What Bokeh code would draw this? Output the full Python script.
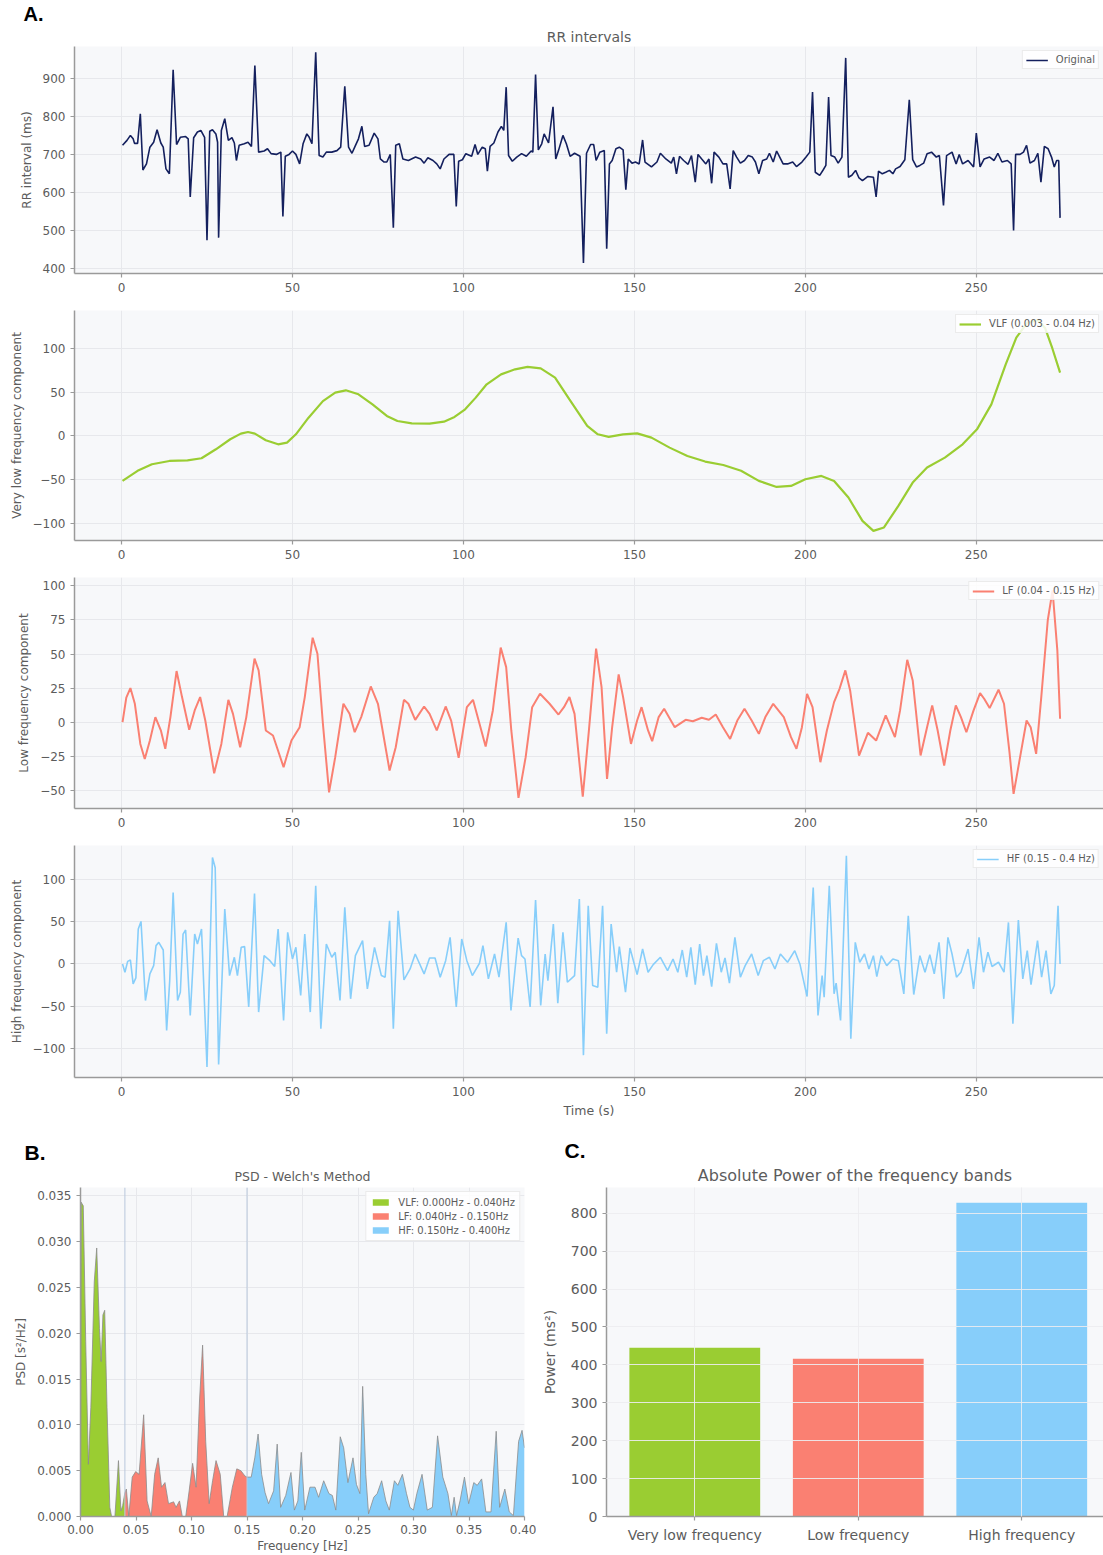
from bokeh.plotting import figure
from bokeh.layouts import column, row
from bokeh.models import Range1d, Span, NumeralTickFormatter, CustomJSTickFormatter, Title
from bokeh.embed import file_html
from bokeh.resources import INLINE

# ---------------- data ----------------
rr_points = [(0.3,725),(1.6,738),(2.6,751),(3.4,742),(3.8,730),(4.7,730),(5.5,808),(6.25,660),(7.3,676),(8.3,720),
 (9.4,733),(10.4,766),(11.5,731),(12.2,720),(13,663),(14,650),(15.1,924),(16.1,727),(17.2,746),(18.75,748),
 (19.5,742),(20.1,589),(21.1,745),(22.2,760),(23.2,764),(24.3,746),(25,475),(25.8,762),(26.6,766),(27.6,755),
 (28.1,733),(28.4,482),(29.2,764),(30.2,795),(31.25,738),(32.3,745),(33,731),(33.6,685),(34.4,725),(35.9,729),
 (37,733),(38,722),(39,935),(40.1,707),(41.7,710),(42.7,716),(43.75,703),(45.3,701),(46.6,707),(47.2,538),
 (47.9,696),(49,701),(50,710),(51,701),(52.1,676),(53.1,729),(54.2,755),(54.9,746),(55.7,729),(56.8,970),
 (57.8,698),(58.9,694),(59.9,707),(61.5,707),(63,711),(64.1,720),(65.3,880),(66.4,720),(67.4,704),(68.4,724),
 (69.3,742),(70.3,775),(71.1,722),(72.4,725),(73.9,757),(75,742),(75.7,689),(76.8,681),(77.6,681),(78.6,701),
 (79.5,508),(80.2,725),(81.25,729),(82.3,689),(83.9,685),(86,694),(87.5,689),(88.5,678),(89.6,692),(91.1,685),
 (92.2,676),(93.2,663),(94.3,689),(95.8,701),(97.2,701),(97.9,564),(98.6,683),(99.7,687),(100.7,703),(102.4,696),
 (103.4,727),(104.2,701),(105.5,720),(106.4,716),(107,657),(107.8,722),(108.9,731),(110.1,760),(111.1,775),(111.8,764),
 (112.5,878),(113.2,698),(114.3,683),(115.6,694),(117,703),(118.4,696),(119.8,710),(120.3,707),(121.1,911),(121.9,713),
 (122.9,729),(123.6,755),(124.9,731),(126.2,826),(127,689),(127.8,711),(129.1,751),(130.1,729),(131.2,696),(132.5,704),
 (134.1,696),(135.1,415),(136,704),(137.2,727),(138.1,727),(138.8,685),(139.9,707),(141.2,711),(141.9,453),(142.7,676),
 (143.5,685),(144.6,716),(145.6,720),(146.7,713),(147.5,608),(148.2,689),(149.3,678),(150.3,681),(151.4,676),(152.4,739),
 (153.1,681),(155,668),(156.6,681),(157.6,704),(159.2,689),(160.8,678),(161.5,694),(162.3,650),(163.2,696),(164.4,685),
 (165.7,675),(166.7,698),(167.8,628),(168.6,701),(169.7,689),(170.9,676),(171.8,689),(172.6,625),(173.3,707),(174.7,694),
 (175.9,676),(177,676),(178,610),(178.9,711),(179.9,694),(181,678),(182.2,685),(183.3,698),(184.5,694),(185.4,681),
 (186.4,650),(187.5,685),(188.7,689),(189.5,704),(190.6,681),(191.6,710),(192.5,694),(193.5,676),(194.8,676),(196.3,681),
 (197.4,669),(199,681),(200.2,694),(201.3,707),(202.1,865),(202.9,654),(204.2,646),(205.2,660),(206,672),(206.8,852),
 (207.5,698),(208.6,694),(209.6,678),(210.7,694),(211.8,955),(212.6,641),(213.6,646),(214.7,659),(215.7,639),(216.7,632),
 (218.3,643),(219.9,641),(220.7,589),(221.4,657),(222.5,650),(223.5,654),(224.6,659),(225.6,650),(226.4,663),(227.7,669),
 (229.1,687),(230.4,845),(231.4,687),(232.5,668),(233.5,672),(234.6,678),(235.6,703),(236.9,707),(238.3,694),(239.2,698),
 (240.4,567),(241.3,698),(242.9,707),(244.1,676),(245,701),(246,676),(247.6,685),(249.2,668),(250,757),(251.1,668),
 (252.3,689),(253.9,694),(255.2,685),(256.3,704),(257.5,681),(259.1,685),(260.2,676),(260.9,501),(261.5,701),(262.8,701),
 (263.8,707),(264.7,725),(265.7,678),(267,685),(268,704),(268.9,628),(269.9,722),(271,716),(272,694),(272.8,668),
 (273.5,685),(274.1,685),(274.5,534)]

vlf_points = [(0.3,-51.6),(4.7,-40),(8.9,-32.5),(14,-28.7),(19.3,-28),(23.4,-25.6),(27.6,-15.3),(31.8,-3.8),(34.9,2.7),
 (37,4.6),(39,2.7),(42.2,-5),(45.8,-9.6),(48.4,-7.6),(51,1.9),(54.7,21),(58.9,40),(62.5,49.7),(65.6,52.4),(69.3,47.8),
 (73.4,36.3),(77.6,23),(80.7,17.2),(84.9,14.5),(90.1,14.1),(94.3,16.4),(97.4,21.8),(100.5,30.6),(103.6,44),(106.8,59.3),
 (111,70.7),(115.1,76.5),(118.75,79.2),(122.6,77.5),(126.8,67),(131,42),(136.2,11.5),(139.3,1.9),(142.5,-1.1),(146.7,1.9),
 (150.8,3),(155,-1.9),(160.3,-13.4),(165.5,-23),(170.7,-29.4),(176,-33.3),(181.2,-40),(186.4,-51.6),(191.6,-58.5),
 (195.8,-57.4),(200,-49.7),(204.7,-45.9),(208.4,-51.6),(212.6,-70.7),(216.7,-97.5),(219.9,-109),(223,-105),(227.2,-80.3),
 (231.4,-53.5),(235.6,-36.3),(240.8,-24.9),(246,-9.6),(250.2,7.6),(254.4,36.3),(258.6,82.2),(261.7,112.8),(264.9,130),
 (268,133),(270.1,124),(272.2,101),(274.5,72.7)]

lf_points = [(0.3,0),(1.4,18),(2.6,25),(3.9,13.5),(5.5,-16),(6.8,-27),(8.3,-13.5),(9.9,3.7),(11.5,-6),(12.8,-19.6),
 (14.3,3.7),(16.1,37.5),(17.7,18.4),(19.8,-5.6),(21.4,8.6),(23,18.4),(24.5,1.2),(27.1,-37.5),(29.2,-16),(31.25,16.4),
 (32.6,6.1),(34.7,-18.4),(36.5,3.7),(38.9,46.6),(40.1,38),(42.2,-6.1),(44.3,-9.8),(47.4,-33),(49.7,-13.5),(52.1,-3.7),
 (53.6,18.4),(55.9,62),(57.3,50.2),(58.9,-1.2),(60.7,-51.5),(62.5,-25.7),(64.9,13.5),(66.7,6.1),(68.2,-7.4),(70.1,3.7),
 (72.9,26.2),(75,13.5),(78.4,-35.5),(80.2,-18.4),(82.6,16.4),(83.9,13.5),(85.9,1.7),(88.5,11.5),(90.1,6.1),(92.2,-6.1),
 (94.8,11.5),(96.4,1.2),(98.6,-26.2),(101,11),(102.8,16.4),(104.7,-1.2),(106.5,-17.9),(108.6,8.6),(110.9,54.7),
 (112.5,40.4),(114,-6.1),(116.1,-55.6),(118.2,-25.7),(120.1,11),(122.4,20.8),(125.2,13.5),(127.8,5.6),(129.4,11),
 (131,18.4),(132.5,6.1),(134.9,-54.7),(136.7,-6.1),(138.8,54),(140.4,25.7),(142,-41.7),(143.5,-3.7),(145.4,35),
 (146.7,18.4),(149,-16),(150.8,1.2),(152.1,11),(154,-6.1),(155.2,-14),(157.1,3.7),(158.7,9.8),(161.8,-3.7),(165,1.7),
 (167.1,0.7),(169.7,3.2),(171.8,1.7),(173.8,5.6),(175.9,-3.7),(178,-12.3),(180.1,1.2),(182.2,9.8),(184.3,1.2),
 (186.4,-8.6),(188.3,3.7),(190.6,13.5),(193.7,3.7),(195.8,-11),(197.4,-19.6),(199,-3.7),(200.5,20.8),(202.1,11),
 (204.4,-29.4),(206.3,-6.1),(208.4,14.7),(210,24.5),(211.7,38),(213.1,23.3),(215.7,-24.5),(218.3,-7.8),(220.7,-13.5),
 (223.5,4.9),(226.2,-11),(227.7,8.6),(229.8,45.8),(231.4,30.6),(233.7,-24.5),(235.6,-3.7),(237.1,12.3),(238.7,-6.1),
 (240.6,-31.9),(242.4,-6.1),(244,12.3),(245.5,3.7),(247.1,-7.4),(249.2,8.6),(251.1,21.3),(252.3,17.2),(253.9,10.3),
 (256.5,23.8),(258.1,13.5),(259.7,-22),(260.9,-52.7),(262.8,-25.7),(264.7,1.2),(265.9,-3.7),(267.5,-23.3),(269,18.4),
 (270.9,74.8),(272.3,96.8),(273.7,52.7),(274.5,2.5)]

hf_points = [(0.3,0),(1,-9.8),(1.8,3),(2.6,4.7),(3.4,-23.6),(4.2,-16.5),(4.9,41.3),(5.7,50.4),(7,-43.3),(8.3,-11.8),
 (9.4,-2),(10.1,21.7),(10.9,25.6),(12.2,16.5),(13.2,-78.7),(14.1,-19.7),(15.1,84.6),(16.4,-43.3),(17.2,-33.5),(18,35.4),
 (18.75,40.2),(20.1,-61),(21.4,35.4),(22.2,23.6),(23.4,41.3),(25,-122),(26.6,126),(27.4,114),(28.4,-119),(30.2,65),
 (31.6,-13.8),(33,7.9),(33.9,-13.8),(35,19.7),(36,20.5),(37.2,-51),(38.9,83.5),(40.1,-57),(41.7,9.8),(43.4,3.9),
 (44.8,-3),(45.8,41.3),(47.4,-67),(48.6,37.4),(50,5.9),(51,19.7),(52.4,-37.4),(53.6,35.4),(55.2,-57),(56.8,92.5),
 (58.3,-76.8),(59.9,23.6),(61.5,7.9),(62.5,13.8),(63.9,-43.3),(65.3,67),(67,-41.3),(68.4,9.8),(70.5,27.6),(71.9,-29.5),
 (74,19.7),(76,-13.8),(77.1,-15.7),(78.4,51),(79.5,-76.8),(80.9,63),(82.6,-18.9),(84.4,-5.9),(85.9,11.8),(88.5,-11.8),
 (90.1,7.1),(91.7,7.1),(93.2,-15.7),(94.8,3.9),(96.1,31.5),(97.9,-51),(99.5,29.5),(101,3.9),(102.6,-13.8),(104.7,0.8),
 (105.7,21.7),(107.3,-17.7),(109.1,11.8),(110.4,-15.7),(112.5,49.2),(113.9,-55),(116,30.7),(117,9.8),(118,5.9),
 (119.5,-51),(121.1,75.6),(122.6,-49.2),(123.9,11.8),(124.7,-19.7),(126.3,47.2),(127.6,-46.5),(129.1,37.4),(130.4,-21.7),
 (132.5,-13.8),(133.9,76.8),(135.1,-108),(136.5,69),(137.8,-25.6),(139.3,-27.6),(140.7,69),(141.9,-82.7),(143.2,47.2),
 (144.8,-9.8),(145.6,20.5),(147.4,-33.5),(148.7,18.9),(150.8,-12.6),(152.4,17.7),(154,-9.8),(155.5,-0.8),(157.6,7.9),
 (159.7,-7.9),(161.3,5.9),(162.7,-9.8),(164,16.5),(165.3,-15.7),(166.5,19.7),(167.8,-24.4),(169.1,23.6),(170.2,-13.8),
 (171.2,9.8),(172.6,-26.8),(174,24.4),(175.4,-9.8),(176.5,7.1),(177.8,-22.8),(179.4,31.5),(181,-15.7),(182.4,-2),
 (184.3,11.8),(186.2,-13.8),(187.7,3.9),(189.5,7.9),(191.1,-5.9),(192.7,11.8),(194.8,2),(196.9,15.7),(198.4,0),
 (200.5,-38.6),(202.3,90.6),(203.7,-61),(204.9,-13.8),(205.5,-39.4),(207,92.5),(208.4,-35.4),(209,-22.8),(210.3,-67),
 (212,128),(213.3,-88.6),(214.6,25.6),(215.9,2),(217.3,11.8),(218.6,-5.9),(219.9,9.8),(220.9,-15),(222.2,9.8),
 (223.8,-2),(225.6,5.9),(227.2,3.9),(228.8,-35.4),(230.1,57),(231.7,-36.2),(233.5,9.8),(235,-9.8),(236.4,11),
 (237.7,-11.8),(239.1,25.6),(240.5,-41.3),(241.7,31.5),(242.9,11.8),(244.2,-15.7),(245.5,-9.8),(247.6,17.7),
 (249.2,-29.5),(250.8,31.5),(252.1,-9.8),(253.4,13.8),(254.6,-3),(256.5,2),(258.1,-9.8),(259.4,49.2),(260.7,-70.9),
 (262.3,52),(263.6,-17.7),(264.9,15.7),(266,-24.4),(267.9,27.6),(269.1,-15.7),(270.4,15.7),(271.8,-35.4),(272.8,-25.6),
 (273.9,68.9),(274.5,0)]

psd_points = [(0.0,0.0),(0.0006,0.0343),(0.0025,0.0339),(0.0047,0.0191),(0.0071,0.0057),(0.0093,0.0119),(0.0124,0.0256),
 (0.0146,0.0293),(0.0171,0.0205),(0.0186,0.0169),(0.0202,0.0220),(0.0218,0.0225),(0.0239,0.0119),(0.0264,0.0010),
 (0.028,0.0),(0.031,0.0),(0.0342,0.0061),(0.0364,0.0006),(0.038,0.0012),(0.04,0.0026),(0.0413,0.0030),(0.0435,0.0),
 (0.0466,0.0043),(0.0497,0.0049),(0.0528,0.0046),(0.0569,0.0111),(0.06,0.0017),(0.0637,0.0),(0.0668,0.0046),
 (0.07,0.0064),(0.073,0.0032),(0.0761,0.0037),(0.0793,0.0014),(0.0839,0.0016),(0.0861,0.0010),(0.0892,0.0017),
 (0.0917,0.0),(0.0948,0.0),(0.0979,0.0028),(0.101,0.0058),(0.1041,0.0032),(0.1072,0.0126),(0.110,0.0187),(0.1128,0.0082),
 (0.1159,0.0014),(0.119,0.0039),(0.1221,0.0061),(0.1259,0.0046),(0.129,0.0),(0.1321,0.0),(0.1368,0.0032),(0.1408,0.0052),
 (0.1445,0.0050),(0.1483,0.0044),(0.15,0.0043),(0.1538,0.0043),(0.157,0.0064),(0.160,0.0090),(0.1632,0.0046),
 (0.1663,0.0026),(0.1694,0.0014),(0.174,0.0028),(0.1772,0.0079),(0.1803,0.0010),(0.1849,0.0023),(0.1896,0.0048),
 (0.1927,0.0007),(0.1958,0.0017),(0.1989,0.0070),(0.202,0.0007),(0.2067,0.0032),(0.2113,0.0032),(0.2145,0.0021),
 (0.2191,0.0039),(0.2238,0.0025),(0.2269,0.0023),(0.23,0.0007),(0.234,0.0087),(0.2371,0.0075),(0.2409,0.0037),
 (0.2455,0.0064),(0.2486,0.0035),(0.2517,0.0025),(0.2542,0.0142),(0.257,0.0046),(0.2595,0.0003),(0.2642,0.0021),
 (0.2673,0.0025),(0.2713,0.0039),(0.2751,0.0017),(0.2782,0.0007),(0.2828,0.0039),(0.2859,0.0034),(0.29,0.0046),
 (0.2937,0.0025),(0.2968,0.0010),(0.2999,0.0007),(0.303,0.0025),(0.3077,0.0046),(0.3124,0.0007),(0.317,0.0010),
 (0.3217,0.0088),(0.3264,0.0043),(0.331,0.0025),(0.3341,0.0001),(0.3366,0.0021),(0.3388,0.0001),(0.3419,0.0017),
 (0.3459,0.0043),(0.3497,0.0014),(0.3543,0.0037),(0.3574,0.0034),(0.3614,0.0041),(0.3652,0.0005),(0.3698,0.0005),
 (0.3745,0.0093),(0.3776,0.0010),(0.3823,0.0030),(0.3863,0.0005),(0.39,0.0001),(0.3947,0.0082),(0.3978,0.0094),
 (0.40,0.0075)]

rr_time = [t for t, _ in rr_points]
rr_ms = [v for _, v in rr_points]
vlf_time = [t for t, _ in vlf_points]
vlf_vals = [v for _, v in vlf_points]
lf_time = [t for t, _ in lf_points]
lf_vals = [v for _, v in lf_points]
hf_time = [t for t, _ in hf_points]
hf_vals = [v for _, v in hf_points]
psd_freq = [f for f, _ in psd_points]
psd_vals = [v for _, v in psd_points]

band_edges = [(0.0, 0.04), (0.04, 0.15), (0.15, 0.40)]
band_legend = ["VLF: 0.000Hz - 0.040Hz", "LF: 0.040Hz - 0.150Hz", "HF: 0.150Hz - 0.400Hz"]
band_names = ["Very low frequency", "Low frequency", "High frequency"]
band_power = [445, 416, 828]
band_colors = ["#9acd32", "#fa8072", "#87cefa"]

time_ticks = [0, 50, 100, 150, 200, 250]
rr_ticks = [400, 500, 600, 700, 800, 900]
vlf_ticks = [-100, -50, 0, 50, 100]
lf_ticks = [-50, -25, 0, 25, 50, 75, 100]
hf_ticks = [-100, -50, 0, 50, 100]
psd_xticks = [0.0, 0.05, 0.10, 0.15, 0.20, 0.25, 0.30, 0.35, 0.40]
psd_yticks = [0.0, 0.005, 0.010, 0.015, 0.020, 0.025, 0.030, 0.035]
power_ticks = [0, 100, 200, 300, 400, 500, 600, 700, 800]

# ---------------- style ----------------
FONT = "DejaVu Sans"
LETTER_FONT = "Liberation Sans"
TXT = "#5c5c5c"
AX = "#9a9a9a"
BG = "#f7f8fa"
GRID = "#e7e8ec"


def neg_fmt():
    return CustomJSTickFormatter(code="return (tick < 0 ? '\u2212' : '') + Math.abs(tick);")


def style(p, tick_size="12px", label_size="12px"):
    p.background_fill_color = BG
    p.border_fill_color = "white"
    p.outline_line_color = None
    for ax in p.axis:
        ax.axis_line_color = AX
        ax.axis_line_width = 1.5
        ax.major_tick_line_color = AX
        ax.major_tick_line_width = 1.2
        ax.major_tick_out = 4
        ax.major_tick_in = 0
        ax.minor_tick_line_color = None
        ax.major_label_text_font = FONT
        ax.major_label_text_font_size = tick_size
        ax.major_label_text_color = TXT
        ax.axis_label_text_font = FONT
        ax.axis_label_text_font_size = label_size
        ax.axis_label_text_color = TXT
        ax.axis_label_text_font_style = "normal"
        ax.major_label_standoff = 5
        ax.axis_label_standoff = 6
    for g in p.grid:
        g.grid_line_color = GRID
        g.grid_line_width = 1


def add_titles(p, text, size, standoff, letter=None, offset=0, letter_size="21px"):
    """Chart title next to the frame, panel letter (if any) stacked above it."""
    items = [Title(text=text, align="center", text_font=FONT, text_font_size=size,
                   text_color=TXT, text_font_style="normal", standoff=standoff)]
    if letter:
        items.append(Title(text=letter, align="left", offset=offset, standoff=0,
                           text_font=LETTER_FONT, text_font_style="bold",
                           text_font_size=letter_size, text_color="black"))
    p.above = items   # index 0 sits next to the frame


def style_legend(p, glyph_w=22, glyph_h=10, label_h=10, spacing=0, padding=3):
    lg = p.legend[0]
    lg.location = "top_right"
    lg.margin = 4
    lg.padding = padding
    lg.spacing = spacing
    lg.label_text_font = FONT
    lg.label_text_font_size = "10px"
    lg.label_text_color = TXT
    lg.label_height = label_h
    lg.label_standoff = 8
    lg.glyph_width = glyph_w
    lg.glyph_height = glyph_h
    lg.border_line_color = "#d8d8d8"
    lg.border_line_width = 1
    lg.background_fill_color = "white"
    lg.background_fill_alpha = 0.85


def time_panel(height, top, bottom, yr, yticks, ylabel, xlabel=None):
    p = figure(width=1103, height=height, x_range=Range1d(-13.75, 287.2), y_range=Range1d(*yr),
               output_backend="svg", toolbar_location=None,
               min_border_left=74, min_border_right=0, min_border_top=top, min_border_bottom=bottom)
    p.xaxis.ticker = time_ticks
    p.yaxis.ticker = yticks
    p.xgrid.ticker = time_ticks
    p.ygrid.ticker = yticks
    p.yaxis.formatter = neg_fmt()
    p.yaxis.axis_label = ylabel
    if xlabel:
        p.xaxis.axis_label = xlabel
    style(p)
    p.xaxis.axis_label_standoff = 4
    p.xaxis.axis_label_text_font_size = "12.5px"
    return p


# ---------------- A: time series ----------------
p1 = time_panel(303, 46, 30, (387.6, 985), rr_ticks, "RR interval (ms)")
add_titles(p1, "RR intervals", "14px", 4, letter="A.", offset=-51, letter_size="20px")
p1.line(rr_time, rr_ms, line_color="#14205e", line_width=1.6, legend_label="Original")
style_legend(p1)

p2 = time_panel(267, 7, 30, (-120, 144), vlf_ticks, "Very low frequency component")
p2.line(vlf_time, vlf_vals, line_color=band_colors[0], line_width=2.2, legend_label="VLF (0.003 - 0.04 Hz)")
style_legend(p2)

p3 = time_panel(268, 7, 30, (-63.4, 106.2), lf_ticks, "Low frequency component")
p3.line(lf_time, lf_vals, line_color=band_colors[1], line_width=2.0, legend_label="LF (0.04 - 0.15 Hz)")
style_legend(p3)

p4 = time_panel(284, 7, 45, (-134.5, 140.3), hf_ticks, "High frequency component", "Time (s)")
p4.line(hf_time, hf_vals, line_color=band_colors[2], line_width=1.6, legend_label="HF (0.15 - 0.4 Hz)")
style_legend(p4)

# ---------------- B: PSD ----------------
pb = figure(width=536, height=433, x_range=Range1d(0, 0.40), y_range=Range1d(0, 0.0359),
            output_backend="svg", toolbar_location=None,
            min_border_left=80, min_border_right=12, min_border_top=63, min_border_bottom=39)
pb.xaxis.ticker = psd_xticks
pb.yaxis.ticker = psd_yticks
pb.xgrid.ticker = psd_xticks
pb.ygrid.ticker = psd_yticks
pb.xaxis.formatter = NumeralTickFormatter(format="0.00")
pb.yaxis.formatter = NumeralTickFormatter(format="0.000")
pb.xaxis.axis_label = "Frequency [Hz]"
pb.yaxis.axis_label = "PSD [s²/Hz]"
style(pb, "12px", "12px")
pb.xaxis.axis_label_standoff = 2
pb.xaxis.major_label_standoff = 4
add_titles(pb, "PSD - Welch's Method", "12.5px", 7, letter="B.", offset=-56)

for (lo, hi), name, col in zip(band_edges, band_legend, band_colors):
    fx = [f for f in psd_freq if lo <= f <= hi]
    fy = [v for f, v in zip(psd_freq, psd_vals) if lo <= f <= hi]
    pb.varea(x=fx, y1=[0] * len(fx), y2=fy, fill_color=col, legend_label=name)
pb.line(psd_freq, psd_vals, line_color="#8c8c8c", line_width=1, line_alpha=0.8)
for edge in (band_edges[0][1], band_edges[1][1]):
    pb.add_layout(Span(location=edge, dimension="height", line_color="#b9c8dc", line_width=1))
style_legend(pb, glyph_w=20, glyph_h=8, label_h=12, spacing=2, padding=4)

# ---------------- C: band power ----------------
pc = figure(width=567, height=433, x_range=Range1d(-0.54, 2.50), y_range=Range1d(0, 868),
            output_backend="svg", toolbar_location=None,
            min_border_left=70, min_border_right=0, min_border_top=65, min_border_bottom=37)
pc.vbar(x=[0, 1, 2], top=band_power, width=0.8, fill_color=band_colors, line_color=None)
pc.xaxis.ticker = [0, 1, 2]
pc.xgrid.ticker = [0, 1, 2]
pc.yaxis.ticker = power_ticks
pc.ygrid.ticker = power_ticks
pc.xaxis.major_label_overrides = {i: n for i, n in enumerate(band_names)}
pc.yaxis.axis_label = "Power (ms²)"
style(pc, "14px", "14px")
pc.xaxis.major_label_standoff = 6
pc.yaxis.axis_label_standoff = 10
for g in pc.grid:
    g.level = "overlay"
    g.grid_line_color = "#ececf0"
    g.grid_line_alpha = 0.9
add_titles(pc, "Absolute Power of the frequency bands", "16px", 5, letter="C.", offset=-42)

layout = column(p1, p2, p3, p4, row(pb, pc))

with open("out.html", "w") as fh:
    fh.write(file_html(layout, INLINE))
